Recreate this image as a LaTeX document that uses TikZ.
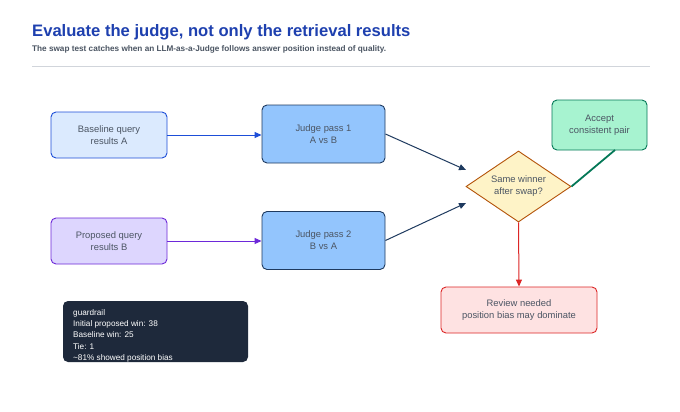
\documentclass[tikz,border=0pt]{standalone}
\usepackage{fontspec}
\setmainfont{Liberation Sans}
\usetikzlibrary{shapes.geometric,arrows.meta}
\definecolor{titleblue}{HTML}{1E40AF}
\definecolor{subgray}{HTML}{4B5563}
\definecolor{txtgray}{HTML}{4B5563}
\definecolor{rulegray}{HTML}{D1D5DB}
\definecolor{bfill}{HTML}{DBEAFE}
\definecolor{bdraw}{HTML}{1D4ED8}
\definecolor{pfill}{HTML}{DDD6FE}
\definecolor{pdraw}{HTML}{6D28D9}
\definecolor{jfill}{HTML}{93C5FD}
\definecolor{jdraw}{HTML}{1E3A5F}
\definecolor{dfill}{HTML}{FEF3C7}
\definecolor{ddraw}{HTML}{B45309}
\definecolor{afill}{HTML}{A7F3D0}
\definecolor{adraw}{HTML}{047857}
\definecolor{rfill}{HTML}{FEE2E2}
\definecolor{rdraw}{HTML}{DC2626}
\definecolor{gfill}{HTML}{1E293B}
\definecolor{arrnavy}{HTML}{1E3A5F}
\begin{document}
\begin{tikzpicture}[x=1pt,y=-1pt,
  box/.style={rounded corners=5pt,line width=0.9pt,align=center,text=txtgray,
    font=\fontsize{9.4}{12}\selectfont,inner sep=0pt},
  arr/.style={line width=1pt,-{Triangle[length=7pt,width=6pt]}}]
\useasboundingbox (0,0) rectangle (680,412);
\fill[white] (0,0) rectangle (680,412);
\node[anchor=base west,text=titleblue,font=\fontsize{16.6}{20}\selectfont\bfseries,inner sep=0pt] (title) at (32,37) {Evaluate the judge, not only the retrieval results};
\node[anchor=base west,text=subgray,font=\fontsize{8.2}{10}\selectfont\bfseries,inner sep=0pt] (sub) at (32,52) {The swap test catches when an LLM-as-a-Judge follows answer position instead of quality.};
\draw[rulegray,line width=1pt] (32,67) -- (650,67);

\node[box,fill=bfill,draw=bdraw,minimum width=116pt,minimum height=46pt] (base) at (109,135) {Baseline query\\results A};
\node[box,fill=pfill,draw=pdraw,minimum width=116pt,minimum height=46pt] (prop) at (109,241) {Proposed query\\results B};
\node[box,fill=jfill,draw=jdraw,minimum width=123pt,minimum height=58pt] (j1) at (323.5,134) {Judge pass 1\\A vs B};
\node[box,fill=jfill,draw=jdraw,minimum width=123pt,minimum height=58pt] (j2) at (323.5,240.5) {Judge pass 2\\B vs A};
\node[diamond,fill=dfill,draw=ddraw,line width=0.9pt,minimum width=105pt,minimum height=71pt,inner sep=0pt,aspect=1.48,align=center,text=txtgray,font=\fontsize{9.4}{12}\selectfont] (dec) at (518.5,186.5) {Same winner\\after swap?};
\node[box,fill=afill,draw=adraw,minimum width=95pt,minimum height=50pt] (acc) at (599.5,125) {Accept\\consistent pair};
\node[box,fill=rfill,draw=rdraw,minimum width=156pt,minimum height=46pt] (rev) at (519,310) {Review needed\\position bias may dominate};
\node[rounded corners=5pt,fill=gfill,minimum width=185pt,minimum height=61pt,inner sep=0pt] (guard) at (155.5,331.5) {};
\node[anchor=north west,align=left,text=white,font=\fontsize{8.2}{11.3}\selectfont,inner sep=0pt] (gtext) at (73,309) {guardrail\\Initial proposed win: 38\\Baseline win: 25\\Tie: 1\\\textasciitilde81\% showed position bias};

\coordinate (d1) at (466,170);
\coordinate (d2) at (466,203);
\draw[arr,bdraw] (base) -- (j1.west|-base);
\draw[arr,pdraw] (prop) -- (j2.west|-prop);
\draw[arr,arrnavy] (j1.east) -- (d1);
\draw[arr,arrnavy] (j2.east) -- (d2);
\draw[adraw,line width=1.8pt] (dec.east) -- (615,150);
\draw[arr,rdraw] (dec.south) -- (rev.north);
\end{tikzpicture}
\end{document}
